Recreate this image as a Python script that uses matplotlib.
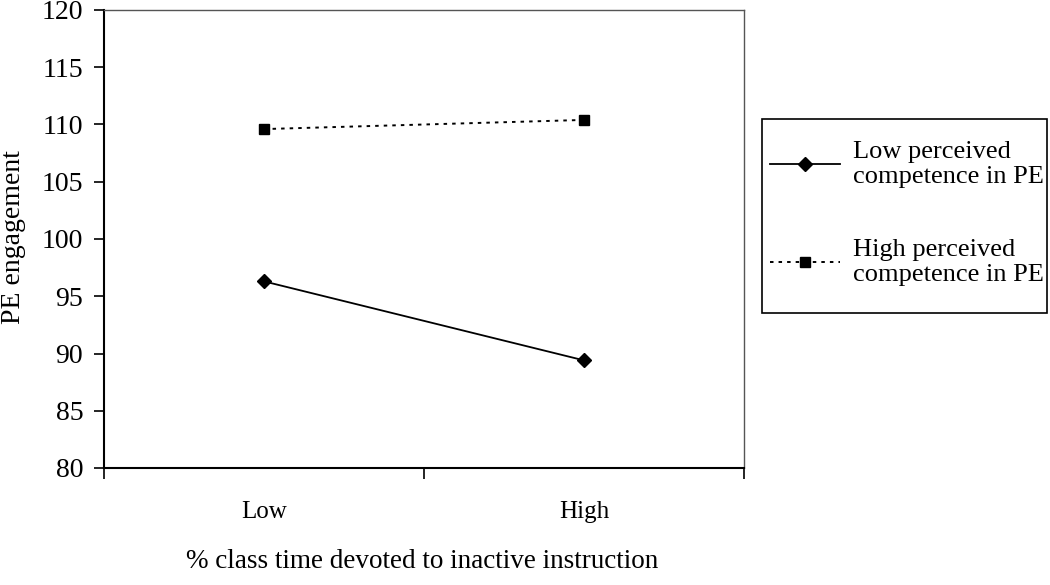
import matplotlib.pyplot as plt
from matplotlib.lines import Line2D
from matplotlib.patches import Rectangle
from matplotlib.transforms import blended_transform_factory

plt.rcParams['font.family'] = ['Liberation Serif', 'DejaVu Serif']

# data
categories = ['Low', 'High']
low_pc = [96.3, 89.4]
high_pc = [109.6, 110.4]
series_labels = ['Low perceived\ncompetence in PE', 'High perceived\ncompetence in PE']
y_ticks = [80, 85, 90, 95, 100, 105, 110, 115, 120]

fig = plt.figure(figsize=(10.5, 5.85), dpi=100)
ax = fig.add_axes([104 / 1050, 1 - 468 / 585, 640 / 1050, 458 / 585])

x_pos = [0.5, 1.5]
ax.plot(x_pos, low_pc, color='black', lw=1.3, marker='D', markersize=7.5)
ax.plot(x_pos, high_pc, color='black', lw=1.4, linestyle=(0, (1.8, 2.6)),
        marker='s', markersize=7.5)

ax.set_xlim(0, 2)
ax.set_ylim(80, 120)
ax.set_yticks(y_ticks)
ax.set_yticklabels([str(v) for v in y_ticks], fontsize=20)
ax.tick_params(axis='y', direction='out', length=7, width=1.2, pad=8)

# category ticks between groups, labels in the middle
ax.set_xticks([0, 1, 2])
ax.set_xticklabels([])
ax.tick_params(axis='x', direction='out', length=8, width=1.2)
trans = blended_transform_factory(ax.transData, fig.transFigure)
for xp, c in zip(x_pos, categories):
    ax.text(xp, 1 - 518 / 585, c, transform=trans,
            ha='center', va='baseline', fontsize=18)

for s in ['left', 'bottom']:
    ax.spines[s].set_linewidth(1.5)
for s in ['top', 'right']:
    ax.spines[s].set_linewidth(1.0)
    ax.spines[s].set_color('#555555')

fig.text(422 / 1050, 1 - 568 / 585, '% class time devoted to inactive instruction',
         ha='center', va='baseline', fontsize=19.5)
fig.text(14 / 1050, 1 - 237 / 585, 'PE engagement', rotation=90,
         ha='center', va='center', fontsize=20)

# legend box drawn separately
fig.patches.append(Rectangle((762 / 1050, 1 - 313 / 585), 285 / 1050, 194 / 585,
                             transform=fig.transFigure, fill=False,
                             edgecolor='black', linewidth=1.2))
handles = [
    Line2D([], [], color='black', lw=1.3, marker='D', markersize=7.5),
    Line2D([], [], color='black', lw=1.4, linestyle=(0, (1.8, 2.6)),
           marker='s', markersize=7.5),
]
leg = fig.legend(handles, series_labels, loc='upper left',
                 bbox_to_anchor=(770 / 1050, 1 - 141 / 585),
                 fontsize=19, frameon=False,
                 handlelength=2.65, handletextpad=0.5, borderpad=0.0,
                 labelspacing=1.9, borderaxespad=0.0)

fig.savefig('out.png', dpi=100)
